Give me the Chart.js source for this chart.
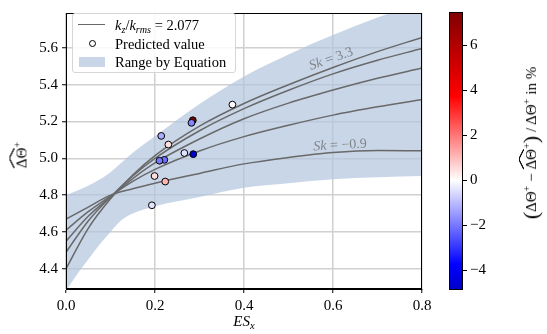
<!DOCTYPE html>
<html>
<head>
<meta charset="utf-8">
<script src="https://cdn.jsdelivr.net/npm/chart.js@4.4.1/dist/chart.umd.min.js"></script>
<style>
    html, body { margin: 0; padding: 0; background: #fff; }
    #wrap { position: relative; width: 547px; height: 334px; font-family: 'Liberation Serif', serif; color: #000; }
    #main { position: absolute; left: 0; top: 0; }
    #cbar { position: absolute; left: 440px; top: 0; }
    .lbl { position: absolute; white-space: nowrap; font-size: 15px; line-height: 1; transform: translate(-50%, -50%); }
    .rot { transform: translate(-50%, -50%) rotate(-90deg); }
    sup { font-size: 70%; vertical-align: 0.55em; line-height: 0; }
    sub { font-size: 70%; vertical-align: -0.3em; line-height: 0; }
    .hat { position: relative; display: inline-block; }
    .hat::before {
        content: ''; position: absolute; left: 0; right: 0; top: -5px; height: 5px;
        background:
            linear-gradient(to top left, transparent 42%, #000 48%, #000 56%, transparent 62%) left / 50% 100% no-repeat,
            linear-gradient(to top right, transparent 42%, #000 48%, #000 56%, transparent 62%) right / 50% 100% no-repeat;
    }
    .big { font-size: 22px; vertical-align: -2px; }
    #legend {
        position: absolute; left: 72px; top: 13px; width: 164px; height: 60px; box-sizing: border-box;
        border: 1px solid #d6d6d6; border-radius: 3px; background: rgba(255, 255, 255, 0.85);
        font-size: 14.5px;
    }
    #legend .row { position: absolute; left: 42px; white-space: nowrap; line-height: 1; transform: translateY(-50%); }
    #legend .sw { position: absolute; }
</style>
</head>
<body>
<div id="wrap">
    <canvas id="main" width="547" height="334"></canvas>
    <canvas id="cbar" width="107" height="334"></canvas>

    <div id="legend">
        <div class="sw" style="left:5px; top:10px; width:27px; height:0; border-top:1.5px solid #696969;"></div>
        <div class="row" style="top:11px;"><i>k</i><sub><i>z</i></sub>/<i>k</i><sub><i>rms</i></sub> = 2.077</div>
        <div class="sw" style="left:16px; top:26px; width:5px; height:5px; border:1.8px solid #000; border-radius:50%; background:#fff;"></div>
        <div class="row" style="top:30px;">Predicted value</div>
        <div class="sw" style="left:6px; top:43px; width:26px; height:10px; background:rgba(176,196,222,0.7);"></div>
        <div class="row" style="top:48px;">Range by Equation</div>
    </div>

    <div class="lbl" style="left:244px; top:321px;"><i>ES</i><sub><i>x</i></sub></div>
    <div class="lbl rot" style="left:22px; top:155px;"><span class="hat">&Delta;&Theta;</span><sup>+</sup></div>
    <div class="lbl rot" style="left:531px; top:143px;"><span class="big">(</span>&Delta;&Theta;<sup>+</sup> &minus; <span class="hat">&Delta;&Theta;</span><sup>+</sup><span class="big">)</span> /&thinsp;&Delta;&Theta;<sup>+</sup> in %</div>
</div>

<script>
// Curves for kz/krms = 2.077, one per skewness value
const skValues = [-0.9, 0.15, 1.2, 2.25, 3.3];
const curveX = [0, 0.05, 0.1, 0.15, 0.2, 0.3, 0.4, 0.5, 0.6, 0.7, 0.8];
const curveSkNeg09 = [4.67, 4.735, 4.80, 4.835, 4.865, 4.918, 4.97, 5.005, 5.032, 5.043, 5.041];
const curveSk015 = [4.61, 4.71, 4.795, 4.875, 4.94, 5.04, 5.118, 5.18, 5.235, 5.28, 5.32];
const curveSk12 = [4.55, 4.685, 4.79, 4.89, 4.975, 5.105, 5.215, 5.30, 5.371, 5.435, 5.491];
const curveSk225 = [4.49, 4.66, 4.79, 4.905, 5.0, 5.15, 5.27, 5.37, 5.459, 5.533, 5.597];
const curveSk33 = [4.40, 4.62, 4.78, 4.91, 5.015, 5.175, 5.298, 5.40, 5.494, 5.58, 5.657];

// Range by equation (band)
const bandUpperX = [0, 0.03, 0.065, 0.1, 0.15, 0.2, 0.3, 0.4, 0.5, 0.6, 0.7, 0.8];
const bandUpperY = [4.80, 4.83, 4.87, 4.925, 5.03, 5.12, 5.295, 5.445, 5.565, 5.67, 5.765, 5.85];
const bandLowerX = [0, 0.025, 0.05, 0.075, 0.1, 0.125, 0.15, 0.2, 0.3, 0.4, 0.5, 0.6, 0.7, 0.8];
const bandLowerY = [4.28, 4.37, 4.45, 4.53, 4.60, 4.665, 4.70, 4.74, 4.79, 4.84, 4.865, 4.886, 4.897, 4.904];

// Predicted values and their relative error in %
const predX = [0.374, 0.285, 0.282, 0.214, 0.230, 0.266, 0.286, 0.221, 0.210, 0.199, 0.223, 0.193];
const predY = [5.292, 5.207, 5.193, 5.122, 5.075, 5.029, 5.023, 4.992, 4.987, 4.904, 4.874, 4.745];
const predErr = [0.1, 7.48, -1.8, -1.2, 0.45, -0.45, -4.87, -2.1, -2.0, 0.5, 1.1, -0.4];

const xTicks = [0, 0.2, 0.4, 0.6, 0.8];
const yTicks = [4.4, 4.6, 4.8, 5.0, 5.2, 5.4, 5.6];
const cbTicks = [-4, -2, 0, 2, 4, 6];

const FONT = "'Liberation Serif', serif";
const X_MIN = 0, X_MAX = 0.8, Y_MIN = 4.29, Y_MAX = 5.79;
const CB_MIN = Math.min(...predErr), CB_MAX = Math.max(...predErr);
const CB_LIM = Math.max(Math.abs(CB_MIN), Math.abs(CB_MAX));

Chart.defaults.font.family = FONT;
Chart.defaults.color = '#000';

// matplotlib 'seismic' colormap, symmetric around zero
function seismic(v) {
    const t = (v + CB_LIM) / (2 * CB_LIM);
    const stops = [[0, [0, 0, 0.3]], [0.25, [0, 0, 1]], [0.5, [1, 1, 1]], [0.75, [1, 0, 0]], [1, [0.5, 0, 0]]];
    for (let i = 1; i < stops.length; i++) {
        if (t <= stops[i][0] || i === stops.length - 1) {
            const [t0, c0] = stops[i - 1];
            const [t1, c1] = stops[i];
            const f = Math.max(0, Math.min(1, (t - t0) / (t1 - t0)));
            const c = c0.map((a, k) => Math.round(255 * (a + (c1[k] - a) * f)));
            return `rgb(${c[0]},${c[1]},${c[2]})`;
        }
    }
}

const pts = (xs, ys) => xs.map((x, i) => ({ x, y: ys[i] }));

const curveData = [curveSkNeg09, curveSk015, curveSk12, curveSk225, curveSk33];
const curveSets = curveData.map((ys, i) => ({
    label: 'Sk = ' + skValues[i],
    data: pts(curveX, ys),
    borderColor: '#696969',
    borderWidth: 1.5,
    pointRadius: 0,
    cubicInterpolationMode: 'monotone',
    fill: false
}));

const skLabels = [
    { text: '3.3', x: 0.596, y: 5.54, rot: -19 },
    { text: '\u22120.9', x: 0.616, y: 5.071, rot: -3 }
];

const framePlugin = {
    id: 'frame',
    afterDatasetsDraw(chart) {
        const { ctx, scales } = chart;
        ctx.save();
        ctx.fillStyle = 'rgba(105,105,105,0.75)';
        ctx.textBaseline = 'middle';
        skLabels.forEach(l => {
            const px = scales.x.getPixelForValue(l.x);
            const py = scales.y.getPixelForValue(l.y);
            ctx.save();
            ctx.translate(px, py);
            ctx.rotate(l.rot * Math.PI / 180);
            ctx.font = `italic 14px ${FONT}`;
            const w1 = ctx.measureText('Sk').width;
            ctx.font = `14px ${FONT}`;
            const rest = ' = ' + l.text;
            const w2 = ctx.measureText(rest).width;
            const x0 = -(w1 + w2) / 2;
            ctx.font = `italic 14px ${FONT}`;
            ctx.fillText('Sk', x0, 0);
            ctx.font = `14px ${FONT}`;
            ctx.fillText(rest, x0 + w1, 0);
            ctx.restore();
        });
        ctx.restore();
    },
    afterDraw(chart) {
        const { ctx, chartArea: a } = chart;
        ctx.save();
        ctx.strokeStyle = '#000';
        ctx.lineWidth = 1;
        ctx.strokeRect(Math.round(a.left) + 0.5, Math.round(a.top) + 0.5,
            Math.round(a.right - a.left) - 1, Math.round(a.bottom - a.top) - 1);
        ctx.restore();
    }
};

new Chart(document.getElementById('main'), {
    type: 'line',
    data: {
        datasets: [
            {
                label: 'Predicted value',
                data: pts(predX, predY),
                showLine: false,
                pointRadius: 3.4,
                pointBorderWidth: 1,
                pointBorderColor: '#000',
                pointBackgroundColor: predErr.map(seismic)
            },
            ...curveSets,
            {
                label: 'Range by Equation',
                data: pts(bandUpperX, bandUpperY),
                borderWidth: 0,
                pointRadius: 0,
                cubicInterpolationMode: 'monotone',
                backgroundColor: 'rgba(176,196,222,0.7)',
                fill: '+1'
            },
            {
                label: 'lower',
                data: pts(bandLowerX, bandLowerY),
                borderWidth: 0,
                pointRadius: 0,
                cubicInterpolationMode: 'monotone',
                fill: false
            }
        ]
    },
    options: {
        responsive: false,
        animation: false,
        layout: { padding: { left: 0, right: 125, top: 5, bottom: 0 } },
        plugins: { legend: { display: false }, tooltip: { enabled: false } },
        scales: {
            x: {
                type: 'linear', min: X_MIN, max: X_MAX,
                afterFit: s => { s.height = 45; },
                afterBuildTicks: s => { s.ticks = xTicks.map(value => ({ value })); },
                ticks: { callback: v => v.toFixed(1), font: { size: 15 }, padding: 4, maxRotation: 0 },
                grid: { color: '#d0d0d0', lineWidth: 1.5, tickColor: '#000', tickLength: 4, tickWidth: 1 },
                border: { display: true, color: '#000', width: 1 }
            },
            y: {
                type: 'linear', min: Y_MIN, max: Y_MAX,
                afterFit: s => { s.width = 66; },
                afterBuildTicks: s => { s.ticks = yTicks.map(value => ({ value })); },
                ticks: { callback: v => v.toFixed(1), font: { size: 15 }, padding: 4 },
                grid: { color: '#d0d0d0', lineWidth: 1.5, tickColor: '#000', tickLength: 4, tickWidth: 1 },
                border: { display: true, color: '#000', width: 1 }
            }
        }
    },
    plugins: [framePlugin]
});

// Colorbar
new Chart(document.getElementById('cbar'), {
    type: 'bar',
    data: {
        labels: ['err'],
        datasets: [{
            data: [[CB_MIN, CB_MAX]],
            barPercentage: 1,
            categoryPercentage: 1,
            borderWidth: 0,
            backgroundColor: ctx => {
                const chart = ctx.chart;
                if (!chart.chartArea) return null;
                const y = chart.scales.y;
                const g = chart.ctx.createLinearGradient(0, y.getPixelForValue(CB_MIN), 0, y.getPixelForValue(CB_MAX));
                [CB_MIN, -CB_LIM / 2, 0, CB_LIM / 2, CB_MAX]
                    .filter(v => v >= CB_MIN && v <= CB_MAX)
                    .forEach(v => g.addColorStop((v - CB_MIN) / (CB_MAX - CB_MIN), seismic(v)));
                return g;
            }
        }]
    },
    options: {
        responsive: false,
        animation: false,
        layout: { padding: { left: 9, right: 0, top: 7, bottom: 44 } },
        plugins: { legend: { display: false }, tooltip: { enabled: false } },
        scales: {
            x: { display: false },
            y: {
                position: 'right', min: CB_MIN, max: CB_MAX,
                afterFit: s => { s.width = 84; },
                afterBuildTicks: s => { s.ticks = cbTicks.map(value => ({ value })); },
                ticks: { callback: v => String(v).replace('-', '\u2212'), font: { size: 15 }, padding: 3 },
                grid: { drawOnChartArea: false, tickColor: '#000', tickLength: 4, tickWidth: 1 },
                border: { display: false }
            }
        }
    },
    plugins: [{
        id: 'cbframe',
        afterDraw(chart) {
            const { ctx, chartArea: a } = chart;
            ctx.save();
            ctx.strokeStyle = '#000';
            ctx.lineWidth = 1;
            ctx.strokeRect(Math.round(a.left) + 0.5, Math.round(a.top) + 0.5,
                Math.round(a.right - a.left) - 1, Math.round(a.bottom - a.top) - 1);
            ctx.restore();
        }
    }]
});
</script>
</body>
</html>
